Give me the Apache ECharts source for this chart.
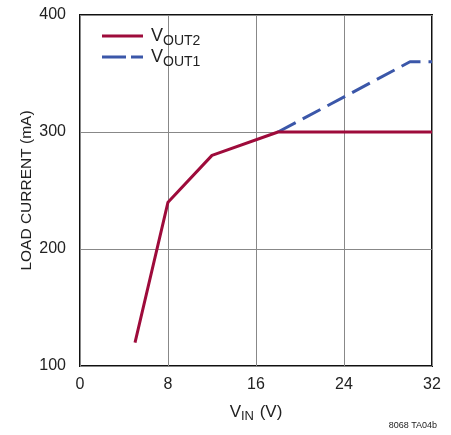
<!DOCTYPE html>
<html><head><meta charset="utf-8">
<script src="https://cdn.jsdelivr.net/npm/echarts@6/dist/echarts.min.js"></script>
<style>html,body{margin:0;padding:0;background:#fff}#c{width:451px;height:435px}</style>
</head><body><div id="c"></div>
<script>
var xTicks = [0, 8, 16, 24, 32];
var yTicks = [100, 200, 300, 400];
var vout2X = [5, 8, 12, 18, 32];
var vout2Y = [120, 240, 280, 300, 300];
var vout1X = [18, 30, 32];
var vout1Y = [300, 360, 360];
var FONT = '"Liberation Sans", Arial, sans-serif';
function pairs(xs, ys){ return xs.map(function(x,i){return [x, ys[i]];}); }
var chart = echarts.init(document.getElementById('c'), null, {renderer:'canvas'});
chart.setOption({
  animation:false,
  backgroundColor:'#fff',
  grid:{left:80, right:19, top:15, bottom:69, show:true, borderColor:'#111', borderWidth:2},
  legend:{
    left:97, top:22, orient:'vertical', itemWidth:41, itemHeight:3, itemGap:0,
    data:[{name:'VOUT2', icon:'path://M0,0h41v3h-41z'},
          {name:'VOUT1', icon:'path://M0,0h24v3h-24zM29,0h12v3h-12z'}],
    formatter:function(n){ return '{m|V}{s|' + n.slice(1) + '}'; },
    textStyle:{fontFamily:FONT, color:'#222', padding:[0,0,0,3], rich:{
      m:{fontSize:18, lineHeight:18, fontFamily:FONT, color:'#222', verticalAlign:'top'},
      s:{fontSize:14, lineHeight:14, fontFamily:FONT, color:'#222', verticalAlign:'top', padding:[7,0,0,0]}
    }}
  },
  xAxis:{type:'value', min:xTicks[0], max:xTicks[xTicks.length-1], interval:8,
    axisLine:{show:false}, axisTick:{show:false},
    splitLine:{show:true, lineStyle:{color:'#888', width:1}},
    axisLabel:{fontFamily:FONT, fontSize:16, color:'#222', margin:11},
    name:'{m|V}{s|IN}{m| (V)}', nameLocation:'middle', nameGap:38,
    nameTextStyle:{fontFamily:FONT, rich:{
      m:{fontSize:17, lineHeight:17, fontFamily:FONT, color:'#222', verticalAlign:'top'},
      s:{fontSize:13, lineHeight:13, fontFamily:FONT, color:'#222', verticalAlign:'top', padding:[6,1,0,0]}
    }}
  },
  yAxis:{type:'value', min:yTicks[0], max:yTicks[yTicks.length-1], interval:100,
    axisLine:{show:false}, axisTick:{show:false},
    splitLine:{show:true, lineStyle:{color:'#888', width:1}},
    axisLabel:{fontFamily:FONT, fontSize:16, color:'#222', margin:14},
    name:'LOAD CURRENT (mA)', nameLocation:'middle', nameGap:45, nameMoveOverlap:false,
    nameTextStyle:{fontFamily:FONT, fontSize:15.5, color:'#222'}
  },
  graphic:[{type:'text', right:14, top:421, style:{text:'8068 TA04b', font:'9px ' + FONT, fill:'#222'}}],
  series:[
    {name:'VOUT1', type:'line', data:pairs(vout1X, vout1Y), showSymbol:false, symbol:'none',
      lineStyle:{color:'#3b57a9', width:3, type:[20,8]}, itemStyle:{color:'#3b57a9'}, z:2},
    {name:'VOUT2', type:'line', data:pairs(vout2X, vout2Y), showSymbol:false, symbol:'none',
      lineStyle:{color:'#9e0b3b', width:3}, itemStyle:{color:'#9e0b3b'}, z:3}
  ]
});
</script></body></html>
